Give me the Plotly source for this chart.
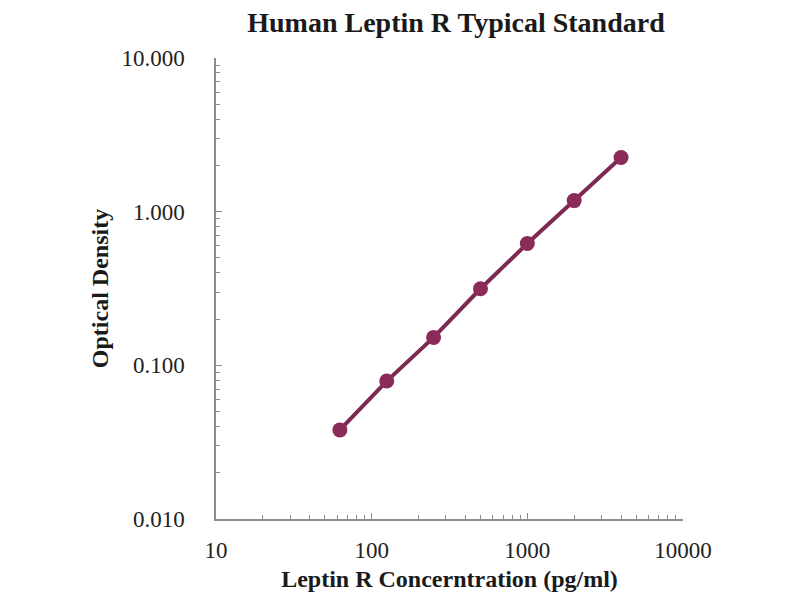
import plotly.graph_objects as go

concentration = [62.5, 125, 250, 500, 1000, 2000, 4000]
optical_density = [0.038, 0.079, 0.152, 0.315, 0.62, 1.18, 2.25]

x_tickvals = [10, 100, 1000, 10000]
x_ticktext = ["10", "100", "1000", "10000"]
y_tickvals = [0.01, 0.1, 1, 10]
y_ticktext = ["0.010", "0.100", "1.000", "10.000"]

color = "#8A2B5A"
font_family = "Liberation Serif, Times New Roman, serif"

fig = go.Figure()
fig.add_trace(go.Scatter(
    x=concentration, y=optical_density,
    mode="lines+markers",
    line=dict(color="#7D2A52", width=4),
    marker=dict(color=color, size=15),
    showlegend=False,
))

axis_common = dict(
    showgrid=False, zeroline=False, showline=True,
    linecolor="#8C8C8C", linewidth=1.5,
    ticks="inside", ticklen=6, tickcolor="#8C8C8C",
    tickfont=dict(family=font_family, size=23, color="#222222"),
    minor=dict(ticks="inside", ticklen=4, tickcolor="#8C8C8C", showgrid=False, dtick="D1"),
)

fig.update_layout(
    width=800, height=600,
    paper_bgcolor="white", plot_bgcolor="white",
    margin=dict(l=208, r=125, t=50, b=89),
    title=dict(text="<b>Human Leptin R Typical Standard</b>",
               font=dict(family=font_family, size=28, color="#1a1a1a"),
               x=0.56, xanchor="center", y=1.0, yanchor="top", pad=dict(t=4)),
    xaxis=dict(type="log", range=[1, 4], tickvals=x_tickvals, ticktext=x_ticktext,
               ticklabelstandoff=10,
               title=dict(text="<b>Leptin R Concerntration (pg/ml)</b>",
                          font=dict(family=font_family, size=24, color="#1a1a1a"), standoff=8),
               **axis_common),
    yaxis=dict(type="log", range=[-2, 1], tickvals=y_tickvals, ticktext=y_ticktext,
               ticklabelstandoff=25,
               title=dict(text="<b>Optical Density</b>",
                          font=dict(family=font_family, size=24, color="#1a1a1a"), standoff=6),
               **axis_common),
)

fig.write_html("out.html")
